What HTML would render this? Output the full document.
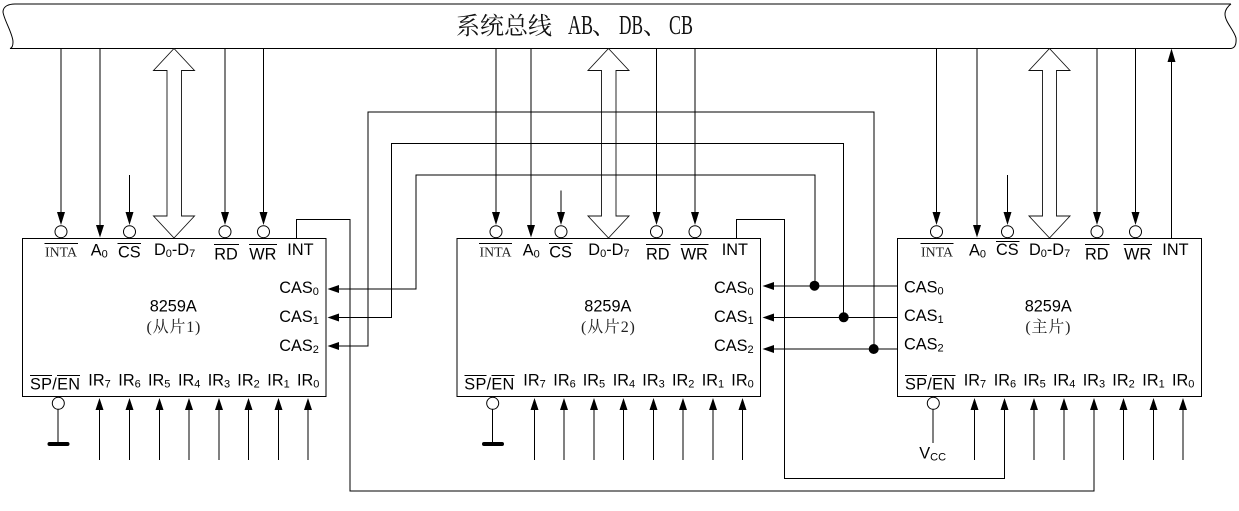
<!DOCTYPE html>
<html>
<head>
<meta charset="utf-8">
<style>
html,body{margin:0;padding:0;background:#fff;width:1239px;height:511px;overflow:hidden}
svg{display:block}
.s{font-family:"Liberation Sans",sans-serif;font-size:16.300px;fill:#000}
.b{font-size:11px}
.r{font-family:"Liberation Serif",serif;font-size:13.500px;fill:#222}
.c{font-family:"Liberation Serif","Noto Serif CJK SC",serif;font-size:16px;letter-spacing:0.800px;fill:#222;text-anchor:middle}
.t{font-family:"Noto Serif CJK SC",serif;font-size:24px;fill:#111}
.l{font-family:"Liberation Serif",serif;font-size:27px;fill:#111}
</style>
</head>
<body>
<svg width="1239" height="511" viewBox="0 0 1239 511" xmlns="http://www.w3.org/2000/svg">
<rect width="1239" height="511" fill="#fff"/>
<g fill="none" stroke="#000" stroke-width="1">
<!-- bus -->
<path d="M1231 4H15C9 4 3 6 3 12C4 20 13 34 13 42C13 46 12 48 10 48.500H1231C1235 48 1236.500 44 1236 38C1234 30 1225 22 1225 14C1225 10 1228 6 1231 4"/>
<!-- chips -->
<path d="M22.500 238.500H326V396.500H22.500Z"/>
<path d="M457 238.500H760.500V396.500H457Z"/>
<path d="M897.500 238.500H1201.500V396.500H897.500Z"/>
<!-- top pin lines chip 1 -->
<path d="M61 48.500V213M100 48.500V226M129.500 175V213M225 48.500V213M263.500 48.500V213"/>
<!-- top pin lines chip 2 -->
<path d="M496 48.500V213M531 48.500V226M561 190.500V213M656.500 48.500V213M695 48.500V213"/>
<!-- top pin lines chip 3 -->
<path d="M936.500 48.500V213M977 48.500V226M1007.500 175V213M1097 48.500V213M1135.500 48.500V213M1171.500 60V238.500"/>
<!-- hollow bus arrows -->
<g stroke="#111" stroke-width="0.900">
<path d="M174 48.500L194.500 70.500H181.500V216H194.500L174 238L153.500 216H167V70.500H153.500Z"/>
<path d="M608.500 48.500L629 70.500H616V216H629L608.500 238L588 216H601.500V70.500H588Z"/>
<path d="M1049.500 48.500L1070 70.500H1056.500V216H1070L1049.500 238L1029 216H1042.500V70.500H1029Z"/>
</g>
<!-- CAS bundle -->
<path d="M338 289H416V175H815V286"/>
<path d="M338 317.500H391.500V143.500H843.500V317.500"/>
<path d="M338 346H368V112H874V349"/>
<path d="M773 286H897.500M773 317.500H897.500M773 349H897.500"/>
<!-- INT lines -->
<path d="M296.500 238.500V219.500H350V491H1094V409"/>
<path d="M736.500 238.500V219.500H784.500V478.500H1004.500V409"/>
<!-- IR lines -->
<path d="M99.500 409V460M129.500 409V460M159.500 409V460M189 409V460M219 409V460M248.500 409V460M278.500 409V460M308 409V460"/>
<path d="M534.500 409V460M564 409V460M594 409V460M623.500 409V460M653.500 409V460M683 409V460M713 409V460M742.500 409V460"/>
<path d="M974.500 409V460M1034 409V460M1064 409V460M1123.500 409V460M1153.500 409V460M1183 409V460"/>
<!-- SP/EN stubs -->
<path d="M58 409V444M492.500 409V444M933 409V443"/>
<!-- overlines -->
<path d="M44.500 243.500H78M117.500 243.500H141M214 244.500H239M249 244.500H277M30 375.500H52M57 375.500H80"/>
<path d="M479 243.500H512M549 243.500H572.500M646 244.500H670.500M680.500 244.500H708.500M464.500 375.500H486.500M491.500 375.500H514.500"/>
<path d="M920.500 243.500H953.500M996 241.500H1019.500M1085 244.500H1109.500M1123.500 244.500H1152M905 375.500H927M932 375.500H955.500"/>
</g>
<!-- ground bars -->
<g fill="#000">
<rect x="47.500" y="442" width="22" height="4" rx="2"/>
<rect x="482" y="442" width="22" height="4" rx="2"/>
<!-- down arrows with bubble -->
<path d="M57 212H65L61 225ZM125.500 212H133.500L129.500 225ZM221 212H229L225 225ZM259.500 212H267.500L263.500 225Z"/>
<path d="M492 212H500L496 225ZM557 212H565L561 225ZM652.500 212H660.500L656.500 225ZM691 212H699L695 225Z"/>
<path d="M932.500 212H940.500L936.500 225ZM1003.500 212H1011.500L1007.500 225ZM1093 212H1101L1097 225ZM1131.500 212H1139.500L1135.500 225Z"/>
<!-- A0 arrows -->
<path d="M96 225H104L100 237.500ZM527 225H535L531 237.500ZM973 225H981L977 237.500Z"/>
<!-- INT up arrow -->
<path d="M1171.500 48.500L1175.500 62H1167.500Z"/>
<!-- CAS left arrows -->
<path d="M327.500 289L339 285V293ZM327.500 317.500L339 313.500V321.500ZM327.500 346L339 342V350Z"/>
<path d="M762.500 286L774 282V290ZM762.500 317.500L774 313.500V321.500ZM762.500 349L774 345V353Z"/>
<!-- IR up arrows -->
<path d="M99.500 398L103.500 410H95.500ZM129.500 398L133.500 410H125.500ZM159.500 398L163.500 410H155.500ZM189 398L193 410H185ZM219 398L223 410H215ZM248.500 398L252.500 410H244.500ZM278.500 398L282.500 410H274.500ZM308 398L312 410H304Z"/>
<path d="M534.500 398L538.500 410H530.500ZM564 398L568 410H560ZM594 398L598 410H590ZM623.500 398L627.500 410H619.500ZM653.500 398L657.500 410H649.500ZM683 398L687 410H679ZM713 398L717 410H709ZM742.500 398L746.500 410H738.500Z"/>
<path d="M974.500 398L978.500 410H970.500ZM1004.500 398L1008.500 410H1000.500ZM1034 398L1038 410H1030ZM1064 398L1068 410H1060ZM1094 398L1098 410H1090ZM1123.500 398L1127.500 410H1119.500ZM1153.500 398L1157.500 410H1149.500ZM1183 398L1187 410H1179Z"/>
<!-- junction dots -->
<circle cx="814.500" cy="285.700" r="5"/>
<circle cx="843.700" cy="317.300" r="5"/>
<circle cx="873.700" cy="349" r="5"/>
</g>
<!-- bubbles -->
<g fill="#fff" stroke="#000" stroke-width="1">
<circle cx="61" cy="231.700" r="6"/><circle cx="129.500" cy="231.700" r="6"/><circle cx="225" cy="231.700" r="6"/><circle cx="263.500" cy="231.700" r="6"/>
<circle cx="496" cy="231.700" r="6"/><circle cx="561" cy="231.700" r="6"/><circle cx="656.500" cy="231.700" r="6"/><circle cx="695" cy="231.700" r="6"/>
<circle cx="936.500" cy="231.700" r="6"/><circle cx="1007.500" cy="231.700" r="6"/><circle cx="1097" cy="231.700" r="6"/><circle cx="1135.500" cy="231.700" r="6"/>
<circle cx="58.300" cy="403.300" r="6"/><circle cx="492.700" cy="403.300" r="6"/><circle cx="933.300" cy="403.300" r="6"/>
</g>
<!-- bus title -->
<text class="t" x="456" y="34">系统总线</text>
<text class="l" x="568" y="34" textLength="25" lengthAdjust="spacingAndGlyphs">AB</text>
<text class="t" x="592" y="34">、</text>
<text class="l" x="619" y="34" textLength="24" lengthAdjust="spacingAndGlyphs">DB</text>
<text class="t" x="643" y="34">、</text>
<text class="l" x="669" y="34" textLength="24" lengthAdjust="spacingAndGlyphs">CB</text>
<!-- chip 1 labels -->
<text class="r" x="45" y="256.500" textLength="32" lengthAdjust="spacingAndGlyphs">INTA</text>
<text class="s" x="90.700" y="255.500">A<tspan class="b" dy="2">0</tspan></text>
<text class="s" x="118" y="257.500">CS</text>
<text class="s" x="154" y="255">D<tspan class="b" dy="2">0</tspan><tspan dy="-2">-D</tspan><tspan class="b" dy="2">7</tspan></text>
<text class="s" x="214.300" y="259.500">RD</text>
<text class="s" x="249.300" y="259.500">WR</text>
<text class="s" x="287.300" y="255">INT</text>
<text class="s" x="279.300" y="293">CAS<tspan class="b" dy="2">0</tspan></text>
<text class="s" x="279.300" y="322">CAS<tspan class="b" dy="2">1</tspan></text>
<text class="s" x="279.300" y="351">CAS<tspan class="b" dy="2">2</tspan></text>
<text class="s" x="149.700" y="311.700">8259A</text>
<text class="c" x="173.800" y="332">(从片1)</text>
<text class="s" x="30" y="389.500" textLength="50">SP/EN</text>
<text class="s" x="88.300" y="385.700">IR<tspan class="b" dy="2">7</tspan></text>
<text class="s" x="118.300" y="385.700">IR<tspan class="b" dy="2">6</tspan></text>
<text class="s" x="148" y="385.700">IR<tspan class="b" dy="2">5</tspan></text>
<text class="s" x="178" y="385.700">IR<tspan class="b" dy="2">4</tspan></text>
<text class="s" x="207.700" y="385.700">IR<tspan class="b" dy="2">3</tspan></text>
<text class="s" x="237.300" y="385.700">IR<tspan class="b" dy="2">2</tspan></text>
<text class="s" x="267.300" y="385.700">IR<tspan class="b" dy="2">1</tspan></text>
<text class="s" x="297" y="385.700">IR<tspan class="b" dy="2">0</tspan></text>
<!-- chip 2 labels -->
<text class="r" x="479.500" y="256.500" textLength="32" lengthAdjust="spacingAndGlyphs">INTA</text>
<text class="s" x="522.700" y="255.500">A<tspan class="b" dy="2">0</tspan></text>
<text class="s" x="549.300" y="257.500">CS</text>
<text class="s" x="588.300" y="255">D<tspan class="b" dy="2">0</tspan><tspan dy="-2">-D</tspan><tspan class="b" dy="2">7</tspan></text>
<text class="s" x="646" y="259.500">RD</text>
<text class="s" x="680.700" y="259.500">WR</text>
<text class="s" x="721.700" y="255">INT</text>
<text class="s" x="714" y="293">CAS<tspan class="b" dy="2">0</tspan></text>
<text class="s" x="714" y="322">CAS<tspan class="b" dy="2">1</tspan></text>
<text class="s" x="714" y="351">CAS<tspan class="b" dy="2">2</tspan></text>
<text class="s" x="584.300" y="311.700">8259A</text>
<text class="c" x="608.300" y="332">(从片2)</text>
<text class="s" x="464.300" y="389.500" textLength="50">SP/EN</text>
<text class="s" x="523.300" y="385.700">IR<tspan class="b" dy="2">7</tspan></text>
<text class="s" x="553.300" y="385.700">IR<tspan class="b" dy="2">6</tspan></text>
<text class="s" x="582.700" y="385.700">IR<tspan class="b" dy="2">5</tspan></text>
<text class="s" x="612.700" y="385.700">IR<tspan class="b" dy="2">4</tspan></text>
<text class="s" x="642.300" y="385.700">IR<tspan class="b" dy="2">3</tspan></text>
<text class="s" x="672" y="385.700">IR<tspan class="b" dy="2">2</tspan></text>
<text class="s" x="701.700" y="385.700">IR<tspan class="b" dy="2">1</tspan></text>
<text class="s" x="731.300" y="385.700">IR<tspan class="b" dy="2">0</tspan></text>
<!-- chip 3 labels -->
<text class="r" x="921" y="256.500" textLength="32" lengthAdjust="spacingAndGlyphs">INTA</text>
<text class="s" x="969" y="255.500">A<tspan class="b" dy="2">0</tspan></text>
<text class="s" x="996" y="255">CS</text>
<text class="s" x="1029" y="255">D<tspan class="b" dy="2">0</tspan><tspan dy="-2">-D</tspan><tspan class="b" dy="2">7</tspan></text>
<text class="s" x="1085" y="259.500">RD</text>
<text class="s" x="1124" y="259.500">WR</text>
<text class="s" x="1162.300" y="255">INT</text>
<text class="s" x="904" y="292.700">CAS<tspan class="b" dy="2">0</tspan></text>
<text class="s" x="904" y="321">CAS<tspan class="b" dy="2">1</tspan></text>
<text class="s" x="904" y="349.700">CAS<tspan class="b" dy="2">2</tspan></text>
<text class="s" x="1024.700" y="311.700">8259A</text>
<text class="c" x="1048.300" y="332">(主片)</text>
<text class="s" x="905" y="389.500" textLength="50">SP/EN</text>
<text class="s" x="963.700" y="385.700">IR<tspan class="b" dy="2">7</tspan></text>
<text class="s" x="993.700" y="385.700">IR<tspan class="b" dy="2">6</tspan></text>
<text class="s" x="1023.300" y="385.700">IR<tspan class="b" dy="2">5</tspan></text>
<text class="s" x="1053" y="385.700">IR<tspan class="b" dy="2">4</tspan></text>
<text class="s" x="1082.700" y="385.700">IR<tspan class="b" dy="2">3</tspan></text>
<text class="s" x="1112.300" y="385.700">IR<tspan class="b" dy="2">2</tspan></text>
<text class="s" x="1142.300" y="385.700">IR<tspan class="b" dy="2">1</tspan></text>
<text class="s" x="1172" y="385.700">IR<tspan class="b" dy="2">0</tspan></text>
<text class="s" x="919.300" y="458.300">V<tspan class="b" dy="2" font-size="12">CC</tspan></text>
</svg>
</body>
</html>
